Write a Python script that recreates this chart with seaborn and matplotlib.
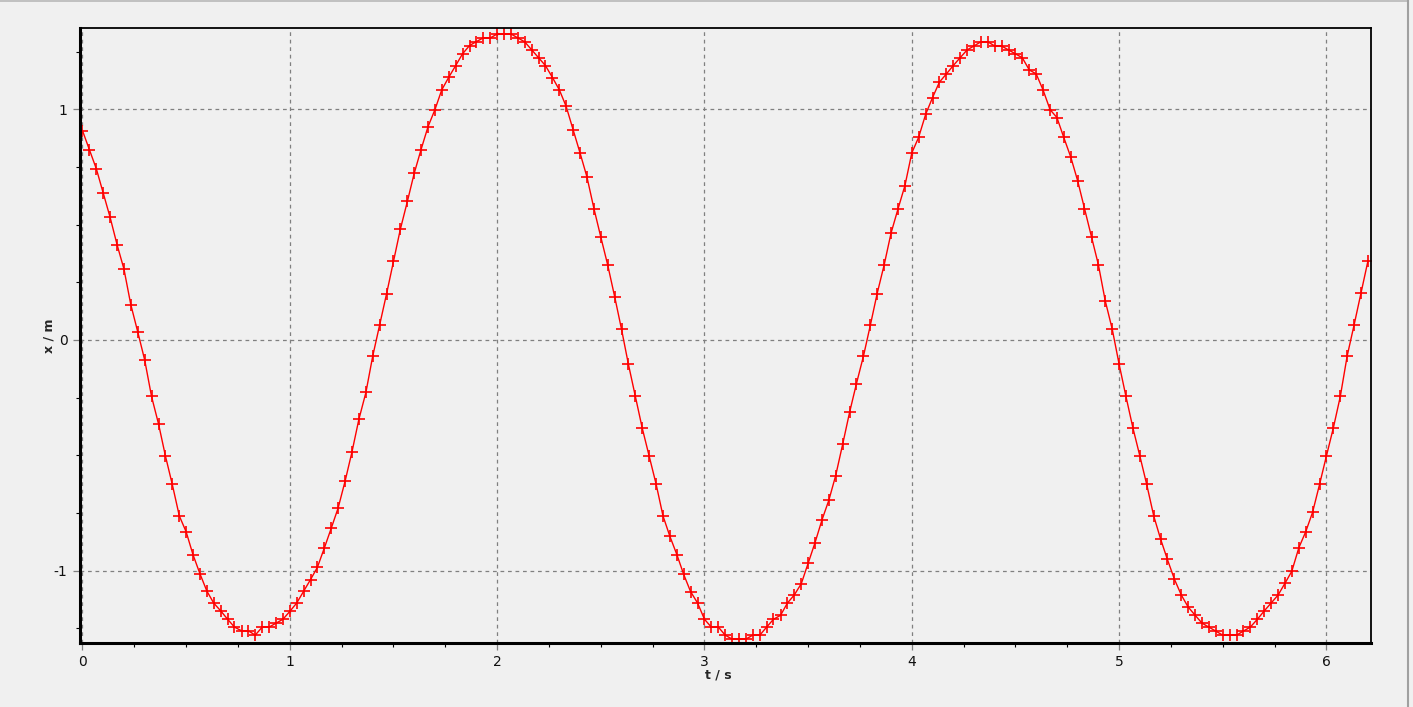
import matplotlib
matplotlib.use("Agg")
import matplotlib.pyplot as plt
from matplotlib.ticker import MultipleLocator
import numpy as np
import seaborn as sns

# sample times (s), 30 samples per second
t_s = [
    0.000, 0.033, 0.067, 0.100, 0.133, 0.167, 0.200, 0.233, 0.267, 0.300,
    0.333, 0.367, 0.400, 0.433, 0.467, 0.500, 0.533, 0.567, 0.600, 0.633,
    0.667, 0.700, 0.733, 0.767, 0.800, 0.833, 0.867, 0.900, 0.933, 0.967,
    1.000, 1.033, 1.067, 1.100, 1.133, 1.167, 1.200, 1.233, 1.267, 1.300,
    1.333, 1.367, 1.400, 1.433, 1.467, 1.500, 1.533, 1.567, 1.600, 1.633,
    1.667, 1.700, 1.733, 1.767, 1.800, 1.833, 1.867, 1.900, 1.933, 1.967,
    2.000, 2.033, 2.067, 2.100, 2.133, 2.167, 2.200, 2.233, 2.267, 2.300,
    2.333, 2.367, 2.400, 2.433, 2.467, 2.500, 2.533, 2.567, 2.600, 2.633,
    2.667, 2.700, 2.733, 2.767, 2.800, 2.833, 2.867, 2.900, 2.933, 2.967,
    3.000, 3.033, 3.067, 3.100, 3.133, 3.167, 3.200, 3.233, 3.267, 3.300,
    3.333, 3.367, 3.400, 3.433, 3.467, 3.500, 3.533, 3.567, 3.600, 3.633,
    3.667, 3.700, 3.733, 3.767, 3.800, 3.833, 3.867, 3.900, 3.933, 3.967,
    4.000, 4.033, 4.067, 4.100, 4.133, 4.167, 4.200, 4.233, 4.267, 4.300,
    4.333, 4.367, 4.400, 4.433, 4.467, 4.500, 4.533, 4.567, 4.600, 4.633,
    4.667, 4.700, 4.733, 4.767, 4.800, 4.833, 4.867, 4.900, 4.933, 4.967,
    5.000, 5.033, 5.067, 5.100, 5.133, 5.167, 5.200, 5.233, 5.267, 5.300,
    5.333, 5.367, 5.400, 5.433, 5.467, 5.500, 5.533, 5.567, 5.600, 5.633,
    5.667, 5.700, 5.733, 5.767, 5.800, 5.833, 5.867, 5.900, 5.933, 5.967,
    6.000, 6.033, 6.067, 6.100, 6.133, 6.167, 6.200,
]

# displacement (m)
x_m = [
    0.907, 0.825, 0.741, 0.636, 0.532, 0.412, 0.307, 0.153, 0.033, -0.087,
    -0.245, -0.365, -0.503, -0.626, -0.763, -0.832, -0.931, -1.015,
    -1.089, -1.141, -1.175, -1.211, -1.245, -1.261, -1.261, -1.280, -1.245,
    -1.245, -1.228, -1.211, -1.177, -1.141, -1.089, -1.039, -0.986,
    -0.901, -0.816, -0.729, -0.611, -0.485, -0.345, -0.228, -0.070, 0.063,
    0.201, 0.341, 0.479, 0.600, 0.722, 0.825, 0.925, 0.998, 1.084,
    1.139, 1.189, 1.240, 1.276, 1.293, 1.309, 1.309, 1.326, 1.326, 1.326,
    1.309, 1.292, 1.257, 1.223, 1.189, 1.137, 1.084,
    1.012, 0.909, 0.810, 0.707, 0.569, 0.446, 0.326, 0.187, 0.046, -0.105,
    -0.245, -0.383, -0.503, -0.626, -0.763, -0.851, -0.931, -1.017,
    -1.091, -1.141, -1.211, -1.245, -1.245, -1.280, -1.297, -1.297, -1.297,
    -1.280, -1.280, -1.245, -1.211, -1.194, -1.141, -1.106, -1.057,
    -0.969, -0.880, -0.780, -0.695, -0.588, -0.451, -0.314, -0.190, -0.070,
    0.063, 0.201, 0.326, 0.463, 0.566, 0.669, 0.810, 0.878,
    0.978, 1.050, 1.117, 1.153, 1.189, 1.223, 1.257, 1.274, 1.292, 1.292,
    1.274, 1.274, 1.257, 1.240, 1.223, 1.170, 1.153, 1.084,
    0.998, 0.964, 0.878, 0.792, 0.690, 0.569, 0.446, 0.326, 0.170, 0.046,
    -0.105, -0.245, -0.383, -0.503, -0.626, -0.763, -0.863,
    -0.952, -1.038, -1.106, -1.158, -1.194, -1.228, -1.245, -1.262, -1.280,
    -1.280, -1.280, -1.262, -1.245, -1.211, -1.175, -1.141, -1.106,
    -1.055, -1.003, -0.901, -0.832, -0.748, -0.626, -0.503, -0.383, -0.245,
    -0.070, 0.063, 0.204, 0.341,
]

x_ticks = [0, 1, 2, 3, 4, 5, 6]
y_ticks = [-1, 0, 1]

sns.set_style("ticks")
plt.rcParams["font.family"] = ["DejaVu Sans"]
plt.rcParams["axes.unicode_minus"] = False

bg = "#f0f0f0"
fig = plt.figure(figsize=(14.13, 7.07), dpi=100, facecolor=bg)
W, H = 1413, 707
ax = fig.add_axes([80 / W, 1 - 643 / H, (1371 - 80) / W, (643 - 28) / H])
ax.set_facecolor(bg)

# thin window border on top and right, as in the reference
fig.add_artist(plt.Line2D([0, 1408 / W], [1 - 1 / H, 1 - 1 / H],
                          transform=fig.transFigure, color="#b8b8b8", lw=1.2))
fig.add_artist(plt.Line2D([1408 / W, 1408 / W], [0, 1],
                          transform=fig.transFigure, color="#a0a0a0", lw=1.5))

sns.lineplot(x=t_s, y=x_m, ax=ax, color="red", linewidth=1.0,
             marker="+", markersize=9, markeredgewidth=1.2,
             markeredgecolor="red", sort=False, legend=False)

ax.set_xlim(-0.012, 6.215)
ax.set_ylim(-1.314, 1.352)
ax.set_xticks(x_ticks)
ax.set_xticklabels([str(v) for v in x_ticks])
ax.set_yticks(y_ticks)
ax.set_yticklabels([str(v) for v in y_ticks])
ax.xaxis.set_minor_locator(MultipleLocator(0.25))
ax.yaxis.set_minor_locator(MultipleLocator(0.25))

ax.grid(True, which="major", color="#808080", linestyle=(0, (3, 3)), linewidth=0.9)
ax.tick_params(which="major", length=5, color="#808080", width=0.9,
               labelsize=10, pad=4, labelcolor="#101010")
ax.tick_params(which="minor", length=3, color="black", width=0.8)

for side in ["left", "bottom"]:
    ax.spines[side].set_linewidth(2.2)
for side in ["top", "right"]:
    ax.spines[side].set_linewidth(1.3)
for s in ax.spines.values():
    s.set_color("black")

ax.set_xlabel("t / s", fontsize=9, fontweight="bold")
ax.set_ylabel("x / m", fontsize=9, fontweight="bold")
ax.xaxis.set_label_coords((718 - 80) / 1291, (643 - 669) / 615)
ax.yaxis.set_label_coords((55 - 80) / 1291, 0.5)

fig.savefig("out.png", dpi=100, facecolor=bg)
